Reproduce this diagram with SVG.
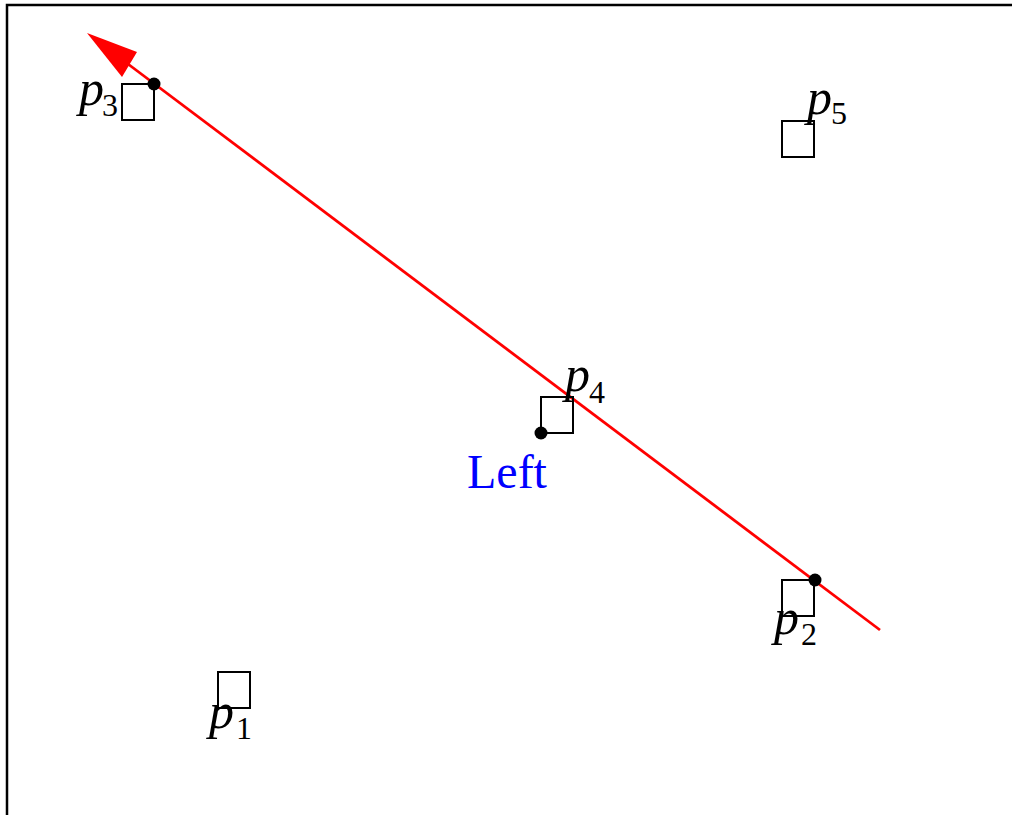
<svg xmlns="http://www.w3.org/2000/svg" width="1012" height="815" viewBox="0 0 1012 815">
<style>
.sq{fill:none;stroke:#000;stroke-width:2}
.lb{font-family:"Liberation Serif",serif;font-style:italic;font-size:50px;fill:#000}
.sb{font-style:normal;font-size:32px}
.dot{fill:#000}
</style>
<rect width="1012" height="815" fill="#fff"/>
<path d="M7,815 V5 H1012" fill="none" stroke="#000" stroke-width="2.5"/>
<g id="connectors">
<line x1="880" y1="630" x2="128" y2="64" stroke="#f00" stroke-width="2.8"/>
<polygon points="87,33 137,52 122,77" fill="#f00"/>
</g>
<g id="p3">
<rect class="sq" x="122" y="84" width="32" height="36"/>
<circle class="dot" cx="154" cy="84" r="6.5"/>
<text class="lb" x="79" y="105">p<tspan class="sb" x="102" y="116">3</tspan></text>
</g>
<g id="p5">
<rect class="sq" x="782" y="121" width="32" height="36"/>
<text class="lb" x="807" y="114">p<tspan class="sb" x="831" y="124">5</tspan></text>
</g>
<g id="p4">
<rect class="sq" x="541" y="397" width="32" height="36"/>
<circle class="dot" cx="541" cy="433" r="6.5"/>
<text class="lb" x="565" y="391">p<tspan class="sb" x="589" y="403">4</tspan></text>
</g>
<g id="left">
<text x="467" y="488" font-family="'Liberation Serif',serif" font-size="48" fill="#00f">Left</text>
</g>
<g id="p2">
<rect class="sq" x="782" y="580" width="32" height="36"/>
<circle class="dot" cx="815" cy="580" r="6.5"/>
<text class="lb" x="774" y="634">p<tspan class="sb" x="801" y="645">2</tspan></text>
</g>
<g id="p1">
<rect class="sq" x="218" y="672" width="32" height="36"/>
<text class="lb" x="209" y="728">p<tspan class="sb" x="236" y="739">1</tspan></text>
</g>
</svg>
